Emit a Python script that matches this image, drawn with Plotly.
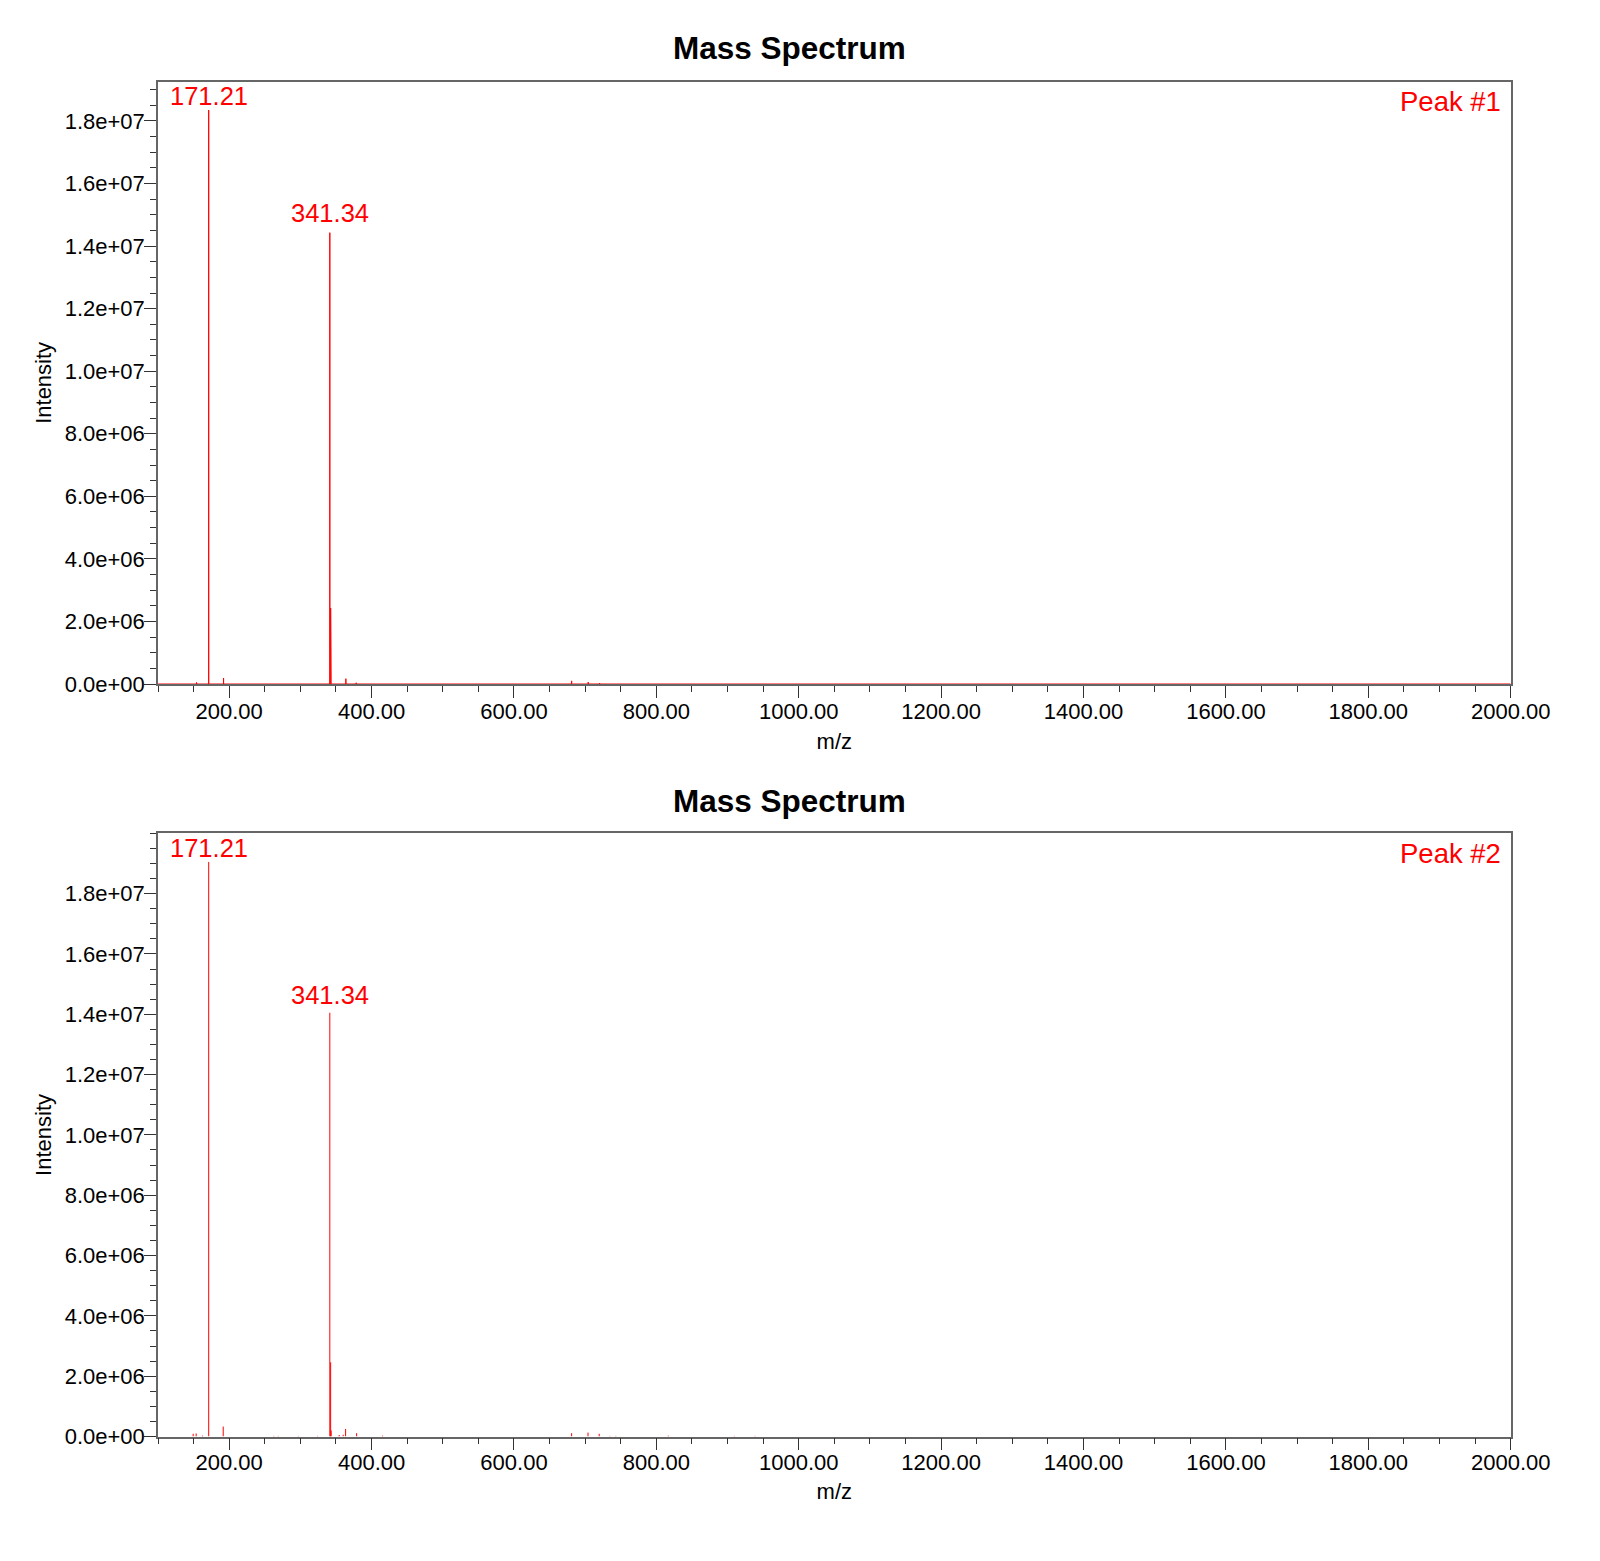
import plotly.graph_objects as go

# ---------------- data ----------------
mz_peak1 = [154.2, 171.21, 192.1, 341.34, 342.5, 343.2, 363.9, 378.4, 681.0, 704.3, 720.3]
int_peak1 = [0.05e6, 18.35e6, 0.19e6, 14.43e6, 2.43e6, 0.25e6, 0.17e6, 0.04e6, 0.10e6, 0.06e6, 0.03e6]

mz_peak2 = [149.4, 153.6, 162.6, 171.21, 191.6, 262.8, 268.9, 297.0, 324.0, 341.34, 342.5, 343.2,
            354.5, 360.1, 363.5, 379.0, 415.5, 681.0, 704.0, 719.7, 734.7, 743.0, 816.7, 909.4, 938.5]
int_peak2 = [0.09e6, 0.10e6, 0.03e6, 19.05e6, 0.33e6, 0.02e6, 0.02e6, 0.02e6, 0.02e6, 14.05e6, 2.46e6, 0.2e6,
             0.05e6, 0.06e6, 0.25e6, 0.11e6, 0.03e6, 0.11e6, 0.13e6, 0.09e6, 0.02e6, 0.02e6, 0.03e6, 0.02e6, 0.02e6]

labelled_mz = [171.21, 341.34]
panel_names = ["Peak #1", "Peak #2"]
x_ticks = [200, 400, 600, 800, 1000, 1200, 1400, 1600, 1800, 2000]
y_ticks = [0, 2e6, 4e6, 6e6, 8e6, 10e6, 12e6, 14e6, 16e6, 18e6]
x_range = [100, 2000]
y_ranges = [[0, 1.9256e7], [0, 2.0e7]]

RED = "#ff0000"
FONT = "Liberation Sans, Arial, sans-serif"
label_yshift = [[-2, 4], [-2, 2]]

fig = go.Figure()

# Panel 1: continuous profile with red baseline
xs, ys = [x_range[0]], [0]
for m, v in zip(mz_peak1, int_peak1):
    xs += [m, m, m]
    ys += [0, v, 0]
xs.append(x_range[1]); ys.append(0)
fig.add_trace(go.Scatter(x=xs, y=ys, mode="lines", line=dict(color=RED, width=1),
                         xaxis="x", yaxis="y", showlegend=False, hoverinfo="skip"))

# Panel 2: sticks
xs2, ys2 = [], []
for m, v in zip(mz_peak2, int_peak2):
    xs2 += [m, m, None]
    ys2 += [0, v, None]
fig.add_trace(go.Scatter(x=xs2, y=ys2, mode="lines", line=dict(color=RED, width=1),
                         xaxis="x2", yaxis="y2", showlegend=False, hoverinfo="skip"))

W, H = 1600, 1561
xdom = [158 / W, 1510.7 / W]
ydoms = [[1 - 684 / H, 1 - 81.7 / H], [1 - 1436.5 / H, 1 - 833.3 / H]]

tickfont = dict(family=FONT, size=22, color="#000000")
axis_common = dict(showline=True, linecolor="#666666", linewidth=1.5, mirror=True,
                   showgrid=False, zeroline=False, ticks="outside", tickcolor="#333333",
                   tickwidth=1, ticklen=12, tickfont=tickfont, automargin=False)

x_ticktext = [f"{v:.2f}" for v in x_ticks]
y_ticktext = [f"{v:.1e}" for v in y_ticks]

layout = dict(width=W, height=H, margin=dict(l=0, r=0, t=0, b=0, autoexpand=False),
              paper_bgcolor="white", plot_bgcolor="white", showlegend=False)

for i in range(2):
    xa = "xaxis" if i == 0 else "xaxis2"
    ya = "yaxis" if i == 0 else "yaxis2"
    ya_ref = "y" if i == 0 else "y2"
    xa_ref = "x" if i == 0 else "x2"
    layout[xa] = dict(axis_common, domain=xdom, anchor=ya_ref, range=x_range,
                      tickvals=x_ticks, ticktext=x_ticktext,
                      ticklabelstandoff=-5 if i == 0 else -7,
                      layer="below traces" if i == 0 else "above traces",
                      minor=dict(dtick=50, tick0=0, ticks="outside", ticklen=6,
                                 tickcolor="#333333", tickwidth=1),
                      title=dict(text="m/z", font=dict(family=FONT, size=22, color="#000000"),
                                 standoff=10))
    layout[ya] = dict(axis_common, domain=ydoms[i], anchor=xa_ref, range=y_ranges[i],
                      tickvals=y_ticks, ticktext=y_ticktext, ticklabelstandoff=-5,
                      minor=dict(dtick=5e5, tick0=0, ticks="outside", ticklen=6,
                                 tickcolor="#333333", tickwidth=1),
                      title=dict(text="Intensity", font=dict(family=FONT, size=22, color="#000000"),
                                 standoff=7))

fig.update_layout(**layout)

annotations = []
title_y = [1 - 48.5 / H, 1 - 801 / H]
for i in range(2):
    annotations.append(dict(text="<b>Mass Spectrum</b>", x=789 / W, y=title_y[i], xref="paper",
                            yref="paper", xanchor="center", yanchor="middle", showarrow=False,
                            font=dict(family=FONT, size=31.5, color="#000000")))
    annotations.append(dict(text=panel_names[i], x=xdom[1], y=ydoms[i][1], xref="paper", yref="paper",
                            xanchor="right", yanchor="top", xshift=-8, yshift=-2 if i == 0 else -3,
                            showarrow=False, font=dict(family=FONT, size=27.5, color=RED)))
    mzs = mz_peak1 if i == 0 else mz_peak2
    ints = int_peak1 if i == 0 else int_peak2
    for j, lm in enumerate(labelled_mz):
        v = ints[mzs.index(lm)]
        annotations.append(dict(text=f"{lm:.2f}", x=lm, y=v, xref="x" if i == 0 else "x2",
                                yref="y" if i == 0 else "y2", xanchor="center", yanchor="bottom",
                                yshift=label_yshift[i][j],
                                showarrow=False, font=dict(family=FONT, size=25.5, color=RED)))
fig.update_layout(annotations=annotations)

fig.write_html("out.html")
